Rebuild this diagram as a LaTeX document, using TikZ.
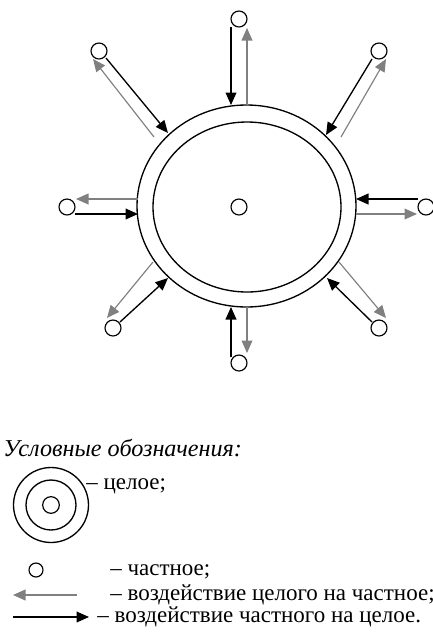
\documentclass[tikz,border=0pt]{standalone}
\usepackage{fontspec}
\setmainfont{Liberation Serif}
\usetikzlibrary{arrows.meta,positioning}

\tikzset{
	part/.style={circle, draw, line width=0.7pt, minimum size=9.6pt, inner sep=0pt},
	whole/.style={draw, line width=0.8pt},
	toWhole/.style={line width=0.8pt, -{Triangle[length=7.5pt,width=6.5pt]}},
	toPart/.style={gray, line width=0.7pt, -{Triangle[length=7.5pt,width=6.5pt]}},
	legendtext/.style={anchor=base west, inner sep=0pt, font=\fontsize{13.8}{16}\selectfont}
}

\begin{document}
\begin{tikzpicture}[x=0.6pt, y=-0.6pt]
		\useasboundingbox (0,0) rectangle (433,636);
		% the whole
		\draw[whole] (246.5,206) ellipse [x radius=109.5, y radius=101];
		\draw[whole] (247,207) ellipse [x radius=94, y radius=85];
		\node[part] (core) at (239,207) {};
		% the parts
		\foreach \n/\x/\y in {t/239/19, tl/99/51, tr/379/51, l/67/207, r/426/207, bl/113/328, br/379/328, b/239/363}
		\node[part] (\n) at (\x,\y) {};
		% arrow ends: a->b black, c->d gray
		\coordinate (t-a) at (231,27);   \coordinate (t-b) at (231,105);
		\coordinate (t-c) at (247,105);  \coordinate (t-d) at (247,28);
		\coordinate (tl-a) at (106,58);  \coordinate (tl-b) at (168,133);
		\coordinate (tl-c) at (154,137); \coordinate (tl-d) at (93,59);
		\coordinate (tr-a) at (372,59);  \coordinate (tr-b) at (326,135);
		\coordinate (tr-c) at (341,137); \coordinate (tr-d) at (386,59);
		\coordinate (l-a) at (75,214);   \coordinate (l-b) at (138,214);
		\coordinate (l-c) at (138,199);  \coordinate (l-d) at (76,199);
		\coordinate (r-a) at (418,199);  \coordinate (r-b) at (356,199);
		\coordinate (r-c) at (356,214);  \coordinate (r-d) at (417,214);
		\coordinate (bl-a) at (120,322); \coordinate (bl-b) at (168,278);
		\coordinate (bl-c) at (153,262); \coordinate (bl-d) at (107,318);
		\coordinate (br-a) at (372,322); \coordinate (br-b) at (327,278);
		\coordinate (br-c) at (339,262); \coordinate (br-d) at (386,318);
		\coordinate (b-a) at (231,357);  \coordinate (b-b) at (231,307);
		\coordinate (b-c) at (247,307);  \coordinate (b-d) at (247,353);
		\foreach \n in {t, tl, tr, l, r, bl, br, b} {
			\draw[toWhole] (\n-a) -- (\n-b);
			\draw[toPart] (\n-c) -- (\n-d);
		}
		% legend
		\node[legendtext, font=\fontsize{14.5}{17}\selectfont\itshape] (lgTitle) at (3,456) {Условные обозначения:};
		\node[circle, draw, line width=0.8pt, minimum size=45pt, inner sep=0pt] (lgOuter) at (51,505) {};
		\node[circle, draw, line width=0.8pt, minimum size=30pt, inner sep=0pt] (lgMid) at (51,505) {};
		\node[part, minimum size=10pt] (lgCore) at (51,505) {};
		\node[legendtext] (lgWhole) at (86,489) {– целое;};
		\node[part, minimum size=8.4pt] (lgPart) at (36,570) {};
		\node[legendtext] (lgPartTxt) at (110,575) {– частное;};
		\coordinate (lgG-a) at (77,595); \coordinate (lgG-b) at (13,595);
		\draw[toPart] (lgG-a) -- (lgG-b);
		\node[legendtext] (lgGTxt) at (110,600) {– воздействие целого на частное;};
		\coordinate (lgB-a) at (13,617); \coordinate (lgB-b) at (89,617);
		\draw[toWhole] (lgB-a) -- (lgB-b);
		\node[legendtext] (lgBTxt) at (97,622) {– воздействие частного на целое.};
	\end{tikzpicture}
\end{document}
